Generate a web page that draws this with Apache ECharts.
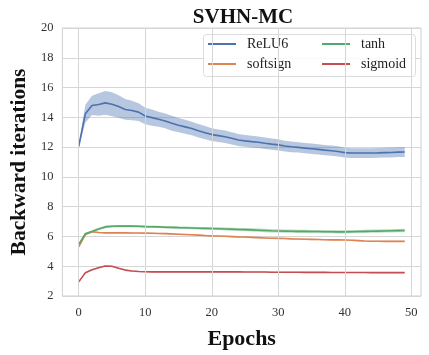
<!DOCTYPE html>
<html>
<head>
<meta charset="utf-8">
<script src="https://cdn.jsdelivr.net/npm/echarts@6/dist/echarts.min.js"></script>
<style>html,body{margin:0;padding:0;background:#fff}#c{width:429px;height:355px}</style>
</head>
<body>
<div id="c"></div>
<script>
const epochs = Array.from({length: 50}, (_, i) => i);
const xTicks = [0, 10, 20, 30, 40, 50];
const relu6 = [12.04,14.24,14.8,14.86,14.97,14.88,14.73,14.53,14.46,14.35,14.09,13.98,13.87,13.76,13.6,13.47,13.36,13.25,13.1,12.97,12.84,12.77,12.7,12.59,12.48,12.42,12.37,12.33,12.26,12.2,12.15,12.07,12.02,11.98,11.93,11.89,11.85,11.8,11.76,11.71,11.63,11.6,11.6,11.6,11.6,11.61,11.63,11.64,11.66,11.67];
const relu6Spread = [0.1,0.6,0.65,0.75,0.8,0.8,0.75,0.7,0.65,0.6,0.55,0.55,0.5,0.5,0.5,0.48,0.47,0.46,0.45,0.44,0.43,0.42,0.42,0.41,0.4,0.4,0.4,0.39,0.38,0.38,0.37,0.36,0.36,0.35,0.35,0.35,0.35,0.34,0.34,0.34,0.33,0.33,0.33,0.33,0.33,0.33,0.33,0.33,0.33,0.33];
const softsign = [5.3,6.13,6.31,6.26,6.24,6.24,6.24,6.24,6.23,6.23,6.22,6.21,6.2,6.19,6.17,6.15,6.13,6.11,6.09,6.06,6.04,6.03,6.01,5.99,5.97,5.96,5.94,5.92,5.9,5.88,5.87,5.86,5.84,5.83,5.81,5.8,5.79,5.78,5.77,5.77,5.76,5.74,5.72,5.69,5.68,5.68,5.67,5.67,5.67,5.67];
const softsignSpread = [0.04,0.05,0.05,0.05,0.05,0.05,0.05,0.05,0.05,0.05,0.05,0.05,0.05,0.05,0.05,0.05,0.05,0.05,0.05,0.05,0.05,0.05,0.05,0.05,0.05,0.05,0.05,0.05,0.05,0.05,0.05,0.05,0.05,0.05,0.05,0.05,0.05,0.05,0.05,0.05,0.05,0.05,0.05,0.05,0.05,0.05,0.05,0.05,0.05,0.05];
const tanh = [5.47,6.18,6.33,6.5,6.64,6.68,6.69,6.69,6.69,6.68,6.66,6.65,6.64,6.62,6.61,6.59,6.58,6.57,6.55,6.54,6.53,6.52,6.5,6.49,6.47,6.46,6.44,6.42,6.4,6.38,6.37,6.36,6.35,6.34,6.34,6.33,6.33,6.32,6.32,6.31,6.31,6.32,6.33,6.34,6.35,6.36,6.37,6.38,6.39,6.4];
const tanhSpread = [0.05,0.08,0.08,0.09,0.09,0.08,0.08,0.08,0.08,0.08,0.08,0.08,0.08,0.08,0.08,0.08,0.08,0.08,0.08,0.09,0.09,0.09,0.1,0.1,0.1,0.1,0.11,0.11,0.11,0.11,0.11,0.11,0.11,0.11,0.11,0.11,0.11,0.11,0.11,0.11,0.11,0.11,0.11,0.11,0.11,0.11,0.11,0.11,0.11,0.11];
const sigmoid = [2.95,3.56,3.76,3.9,4.02,4.0,3.86,3.74,3.68,3.65,3.63,3.62,3.62,3.62,3.62,3.62,3.62,3.62,3.62,3.62,3.62,3.62,3.62,3.62,3.62,3.61,3.61,3.61,3.61,3.6,3.6,3.6,3.6,3.6,3.59,3.59,3.59,3.59,3.58,3.58,3.58,3.58,3.58,3.58,3.57,3.57,3.57,3.57,3.57,3.57];
const sigmoidSpread = [0.03,0.04,0.04,0.04,0.04,0.04,0.04,0.04,0.04,0.04,0.04,0.04,0.04,0.04,0.04,0.04,0.04,0.04,0.04,0.04,0.04,0.04,0.04,0.04,0.04,0.04,0.04,0.04,0.04,0.04,0.04,0.04,0.04,0.04,0.04,0.04,0.04,0.04,0.04,0.04,0.04,0.04,0.04,0.04,0.04,0.04,0.04,0.04,0.04,0.04];

const FONT = 'Liberation Serif';
const defs = [
  {name: 'ReLU6', mean: relu6, spread: relu6Spread, color: '#4C72B0', alpha: 0.4},
  {name: 'softsign', mean: softsign, spread: softsignSpread, color: '#DD8452', alpha: 0.3},
  {name: 'tanh', mean: tanh, spread: tanhSpread, color: '#55A868', alpha: 0.4},
  {name: 'sigmoid', mean: sigmoid, spread: sigmoidSpread, color: '#C44E52', alpha: 0.3}
];

const series = [];
series.push({
  type: 'line', name: '_grid', data: [], z: 1, silent: true,
  markLine: {
    silent: true, symbol: 'none', animation: false,
    label: {show: false},
    lineStyle: {color: '#d6d6d6', type: 'solid', width: 1},
    data: xTicks.map(v => ({xAxis: v}))
  }
});
defs.forEach((d, k) => {
  const rows = epochs.map(i => [i, d.mean[i] - d.spread[i], d.mean[i] + d.spread[i]]);
  series.push({
    type: 'custom', name: '_band' + k, silent: true, z: 2, clip: true,
    encode: {x: 0, y: [1, 2]},
    data: rows,
    renderItem: function (params, api) {
      if (params.dataIndex !== 0) return null;
      const up = rows.map(r => api.coord([r[0], r[2]]));
      const lo = rows.map(r => api.coord([r[0], r[1]])).reverse();
      return {
        type: 'polygon',
        shape: {points: up.concat(lo)},
        style: {fill: d.color, opacity: d.alpha, stroke: null}
      };
    }
  });
});
defs.forEach(d => {
  series.push({
    type: 'line', name: d.name, symbol: 'none', z: 3,
    lineStyle: {color: d.color, width: 1.6},
    itemStyle: {color: d.color},
    data: epochs.map(i => [i, d.mean[i]])
  });
});

const legendCommon = {
  orient: 'vertical', top: 37, itemWidth: 28, itemHeight: 2, itemGap: 6, padding: 0,
  icon: 'rect', selectedMode: false, z: 5,
  textStyle: {fontFamily: FONT, fontSize: 14, color: '#222', padding: [0, 0, 0, 6]}
};

const chart = echarts.init(document.getElementById('c'), null, {renderer: 'canvas'});
chart.setOption({
  animation: false,
  backgroundColor: '#fff',
  title: {
    text: 'SVHN-MC', left: 238, top: 2, textAlign: 'center',
    textStyle: {fontFamily: FONT, fontWeight: 'bold', fontSize: 21, color: '#111'}
  },
  grid: {left: 55, right: 8, top: 28, bottom: 53, show: true, borderColor: '#cfcfcf', borderWidth: 1, backgroundColor: 'transparent'},
  xAxis: {
    type: 'value', min: -2.45, max: 51.45,
    name: 'Epochs', nameLocation: 'middle', nameGap: 32,
    nameTextStyle: {fontFamily: FONT, fontWeight: 'bold', fontSize: 22, color: '#111'},
    axisLine: {show: false}, axisTick: {show: false}, splitLine: {show: false},
    axisLabel: {customValues: xTicks, fontFamily: FONT, fontSize: 12.5, color: '#333', margin: 10}
  },
  yAxis: {
    type: 'value', min: 2, max: 20, interval: 2,
    name: 'Backward iterations', nameLocation: 'middle', nameGap: 32,
    nameTextStyle: {fontFamily: FONT, fontWeight: 'bold', fontSize: 21.5, color: '#111'},
    axisLine: {show: false}, axisTick: {show: false},
    splitLine: {lineStyle: {color: '#d6d6d6', width: 1}},
    axisLabel: {fontFamily: FONT, fontSize: 12.5, color: '#333', margin: 9}
  },
  legend: [
    Object.assign({left: 208, data: ['ReLU6', 'softsign']}, legendCommon),
    Object.assign({left: 322, data: ['tanh', 'sigmoid']}, legendCommon)
  ],
  graphic: [{
    type: 'rect', z: 4, silent: true,
    shape: {x: 203.5, y: 34.5, width: 212, height: 42, r: 3},
    style: {fill: 'rgba(255,255,255,0.85)', stroke: '#dcdcdc', lineWidth: 1}
  }],
  series: series
});
</script>
</body>
</html>
